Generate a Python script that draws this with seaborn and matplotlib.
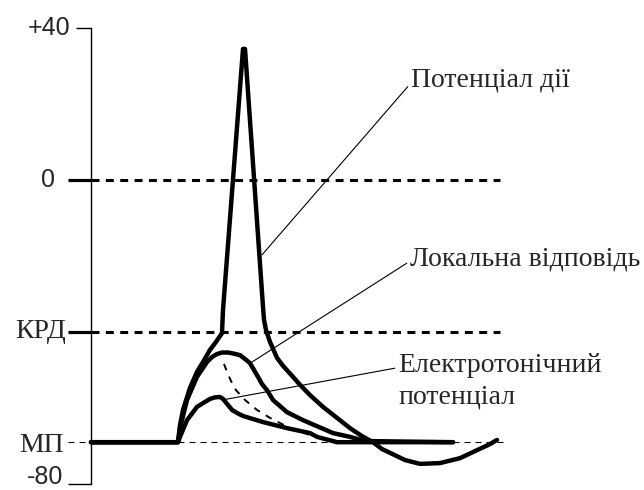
import matplotlib
matplotlib.use("Agg")
from matplotlib import pyplot as plt
import seaborn as sb

# levels on the potential axis (mV)
v_top = 40
v_zero = 0
v_krd = -40      # critical depolarisation level
v_mp = -69       # resting membrane potential
v_bottom = -80

# action potential: time (arbitrary units) and potential (mV)
ap_t = [91, 178, 180, 183, 190, 197, 203, 210, 216, 222, 223, 243, 245, 263, 264,
        266, 270, 277, 283, 293, 300, 310, 323, 337, 350, 362, 373, 382, 390, 405,
        420, 440, 460, 477, 490, 497]
ap_v = [-69, -69, -64.5, -60.5, -54.7, -50.5, -47.9, -44.7, -42.6, -40.3, -34.2,
        34.5, 34.5, -33.4, -36.8, -39.5, -42.6, -46.8, -48.9, -51.8, -53.9, -56.6,
        -59.7, -62.6, -65.3, -67.4, -69, -70.8, -71.8, -73.7, -74.7, -74.5, -73.2,
        -71.1, -69.5, -68.4]

# local response
lr_t = [91, 178, 180, 187, 197, 207, 212, 217, 222, 228, 234, 240, 245, 250, 254,
        258, 262, 267, 273, 287, 303, 333, 350, 365, 453]
lr_v = [-69, -69, -65.3, -57.9, -51.8, -47.9, -46.6, -45.8, -45.4, -45.4, -45.7,
        -46.1, -47.1, -48.2, -50, -51.8, -53.7, -55.3, -57.9, -61.1, -63.2, -66.6,
        -67.6, -68.7, -69]

# electrotonic potential
et_t = [91, 178, 180, 187, 197, 210, 215, 220, 223, 227, 232, 237, 243, 263, 287,
        310, 317, 337, 453]
et_v = [-69, -69, -67.6, -63.2, -59.7, -57.6, -57.2, -57.1, -57.6, -58.9, -60.5,
        -61.3, -62.1, -63.7, -65.3, -66.6, -67.6, -69, -69]

# passive decay (dashed) from the local response peak
ps_t = [224, 227, 231, 236, 245, 257, 270, 290, 310, 335]
ps_v = [-48.4, -50.5, -52.9, -55.3, -57.9, -60.5, -62.6, -65.3, -67.1, -68.7]

left_labels = ["+40", "0", "КРД", "МП", "-80"]
left_levels = [v_top, v_zero, v_krd, v_mp, v_bottom]

sb.set_style("white")
serif = ["Liberation Serif", "DejaVu Serif"]
sans = ["Liberation Sans", "DejaVu Sans"]

fig = plt.figure(figsize=(6.44, 4.90), dpi=100)
ax = fig.add_axes([0, 0, 1, 1])
ax.set_xlim(0, 644)
ax.set_ylim(-81.58, 47.37)

# reference levels
ax.hlines([v_zero, v_krd], 91, 500, colors="black", lw=2.2,
          linestyles=[(0, (2.6, 2.1))], zorder=2)
ax.hlines(v_mp, 68, 505, colors="black", lw=0.8,
          linestyles=[(0, (5.4, 4.5))], zorder=2)

# curves
kw = dict(color="black", lw=3.2, sort=False, estimator=None, ax=ax, legend=False)
sb.lineplot(x=et_t, y=et_v, **kw)
sb.lineplot(x=lr_t, y=lr_v, **kw)
sb.lineplot(x=ap_t, y=ap_v, **kw)
sb.lineplot(x=ps_t, y=ps_v, color="black", lw=1.4, sort=False, estimator=None,
            ax=ax, legend=False, linestyle=(0, (3.5, 3.5)))
for ln in ax.lines:
    ln.set_clip_on(False)

# axis
for s in ["top", "right", "bottom"]:
    ax.spines[s].set_visible(False)
ax.spines["left"].set_position(("data", 91))
ax.spines["left"].set_bounds(v_bottom, v_top)
ax.spines["left"].set_linewidth(1)
ax.spines["left"].set_color("black")
ax.set_xticks([])
ax.set_yticks(left_levels)
ax.tick_params(axis="y", left=True, direction="out", length=16.5, width=1,
               color="black", labelleft=False)
for loc, tick in zip(ax.yaxis.get_majorticklocs(), ax.yaxis.get_major_ticks()):
    if loc == v_top:
        tick.tick1line.set_markersize(10.8)
    elif loc in (v_zero, v_krd):
        tick.tick1line.set_markeredgewidth(2.3)
    elif loc == v_mp:
        tick.tick1line.set_visible(False)

# axis labels (the -80 one sits on the bottom edge, so anchor it by its bottom)
label_x = [70, 55, 66, 64, 63]
label_y = [v_top, v_zero, v_krd, v_mp, -81.3]
label_va = ["center", "center", "center", "center_baseline", "bottom"]
for lab, y, x, va in zip(left_labels, label_y, label_x, label_va):
    fam = serif if lab in ("КРД", "МП") else sans
    size = 20 if fam is serif else 18
    ax.text(x, y, lab, ha="right", va=va, fontsize=size, family=fam)

# curve names with leader lines
lp = dict(arrowstyle="-", lw=0.8, color="black", shrinkA=0, shrinkB=0)
ax.annotate("Потенціал дії", xy=(262, -19.7), xytext=(411, 24.5), fontsize=20,
            family=serif, ha="left", va="baseline",
            arrowprops=dict(relpos=(0, 0.4), **lp))
ax.annotate("Локальна відповідь", xy=(252, -47.9), xytext=(410, -22.4), fontsize=20,
            family=serif, ha="left", va="baseline",
            arrowprops=dict(relpos=(0, 0.4), **lp))
ax.annotate("Електротонічний\nпотенціал", xy=(222, -57.9), xytext=(398, -58.9),
            fontsize=20, family=serif, ha="left", va="baseline", linespacing=1.37,
            arrowprops=dict(relpos=(0, 0.74), **lp))

plt.savefig("out.png", dpi=100, facecolor="white")
plt.close()
